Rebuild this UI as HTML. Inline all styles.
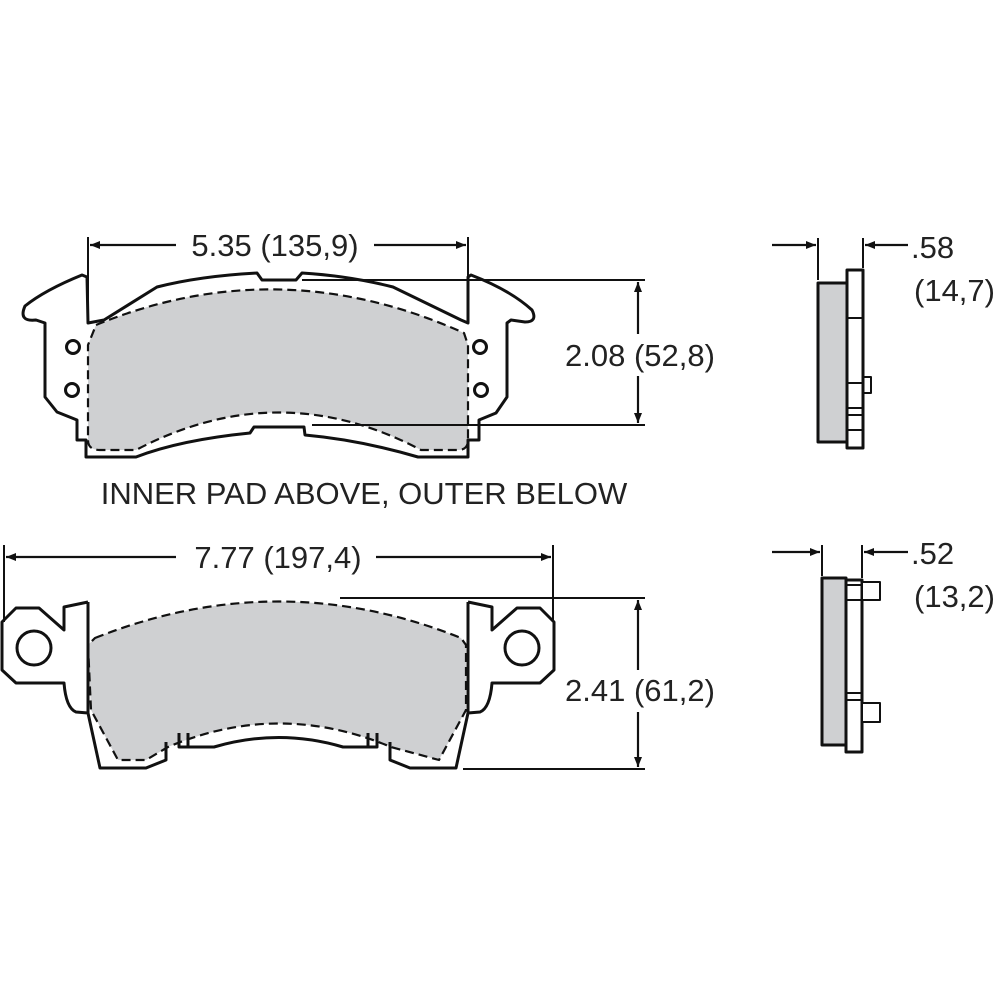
<!DOCTYPE html>
<html><head><style>
html,body{margin:0;padding:0;background:#fff;}
svg{display:block;}
text{font-family:"Liberation Sans",sans-serif;fill:#222;}
</style></head><body>
<svg width="1000" height="1000" viewBox="0 0 1000 1000" xmlns="http://www.w3.org/2000/svg">
<defs>
<marker id="a" viewBox="0 0 10 10" refX="10" refY="5" markerWidth="14" markerHeight="10" orient="auto" markerUnits="userSpaceOnUse"><path d="M0,1 L10,5 L0,9 Z" fill="#111"/></marker>
</defs>
<g fill="none" stroke="#111" stroke-width="3" stroke-linejoin="round">
<path d="M96,325 Q279,250 464,333 L468,345 L468,440 Q468,450 458,450 L421,450 Q279,375 136,450 L100,450 Q88,450 88,440 L88,345 Z" fill="#cfd0d2" stroke="none"/>
<path d="M96,325 Q279,250 464,333 L468,345 L468,440 Q468,450 458,450 L421,450 Q279,375 136,450 L100,450 Q88,450 88,440 L88,345 Z" stroke-dasharray="9,5" stroke-width="2.2"/>
<path d="M88,323 L104,320 L157,287 Q200,276 257,273 L262,280 L296,280 L302,273 Q350,276 393,287 L461,320 L468,323 L468,277 L471,275 Q510,290 532,310 Q538,322 525,322 L511,320 L507,323 L507,397 L496,413 L479,420 L479,440 L468,440 L468,457 L418,457 Q360,440 305,435 L304,427 L254,427 L250,433 Q180,440 136,457 L86,457 L86,440 L77,440 L77,420 L57,412 L45,397 L45,323 L36,320 Q18,322 25,306 Q45,290 82,275 L87,277 Z"/>
<line x1="302" y1="280" x2="645" y2="280" stroke-width="2"/>
<line x1="312" y1="425" x2="645" y2="425" stroke-width="2"/>
<circle cx="73" cy="347" r="6.5"/><circle cx="72" cy="390" r="6.5"/>
<circle cx="480" cy="347" r="6.5"/><circle cx="481" cy="390" r="6.5"/>
<line x1="88" y1="237" x2="88" y2="323" stroke-width="2"/>
<line x1="468" y1="237" x2="468" y2="277" stroke-width="2"/>
<line x1="176" y1="245" x2="90" y2="245" stroke-width="2.2" marker-end="url(#a)"/>
<line x1="374" y1="245" x2="466" y2="245" stroke-width="2.2" marker-end="url(#a)"/>
<line x1="638" y1="334" x2="638" y2="282" stroke-width="2.2" marker-end="url(#a)"/>
<line x1="638" y1="376" x2="638" y2="423" stroke-width="2.2" marker-end="url(#a)"/>

<path d="M95,638 Q279,565 461,638 L466,645 L466,710 L439,760 L391,747 Q279,700 168,747 L146,760 L118,760 L91,710 L88,645 Z" fill="#cfd0d2" stroke="none"/>
<path d="M95,638 Q279,565 461,638 L466,645 L466,710 L439,760 L391,747 Q279,700 168,747 L146,760 L118,760 L91,710 L88,645 Z" stroke-dasharray="9,5" stroke-width="2.2"/>
<path d="M88,602 L64,607 L64,630 L39,608 L16,608 L2,622 L2,670 L16,683 L64,683 Q66,708 76,712 L88,713 L88,602 M88,713 L100,768 L146,768 L166,760 L166,742"/>
<path d="M468,602 L492,607 L492,630 L517,608 L540,608 L554,622 L554,670 L540,683 L492,683 Q490,708 480,712 L468,713 L468,602 M468,713 L456,768 L410,768 L390,760 L390,742"/>
<path d="M179,733 L179,747 L214,747 Q279,728 343,747 L377,747 L377,733 M188,733 L188,747 M368,733 L368,747"/>
<circle cx="34" cy="648" r="17"/><circle cx="522" cy="648" r="17"/>
<line x1="340" y1="598" x2="645" y2="598" stroke-width="2"/>
<line x1="463" y1="769" x2="645" y2="769" stroke-width="2"/>
<line x1="4" y1="545" x2="4" y2="622" stroke-width="2"/>
<line x1="553" y1="545" x2="553" y2="622" stroke-width="2"/>
<line x1="176" y1="557" x2="6" y2="557" stroke-width="2.2" marker-end="url(#a)"/>
<line x1="376" y1="557" x2="551" y2="557" stroke-width="2.2" marker-end="url(#a)"/>
<line x1="638" y1="670" x2="638" y2="600" stroke-width="2.2" marker-end="url(#a)"/>
<line x1="638" y1="712" x2="638" y2="767" stroke-width="2.2" marker-end="url(#a)"/>

<rect x="818" y="283" width="29" height="159" fill="#cfd0d2"/>
<rect x="847" y="270" width="16" height="178" fill="#fff"/>
<path d="M847,318 H863 M847,383 H863 M847,408 H863 M847,415 H863 M847,430 H863" stroke-width="2"/>
<path d="M863,377 H871 V393 H863" stroke-width="2"/>
<line x1="818" y1="238" x2="818" y2="280" stroke-width="2"/>
<line x1="863" y1="238" x2="863" y2="268" stroke-width="2"/>
<line x1="772" y1="245" x2="816" y2="245" stroke-width="2.2" marker-end="url(#a)"/>
<line x1="908" y1="245" x2="865" y2="245" stroke-width="2.2" marker-end="url(#a)"/>
<rect x="822" y="578" width="24" height="167" fill="#cfd0d2"/>
<rect x="846" y="580" width="16" height="172" fill="#fff"/>
<path d="M846,585 H862 M846,600 H862 M846,693 H862 M846,700 H862" stroke-width="2"/>
<rect x="862" y="582" width="18" height="18" fill="#fff" stroke-width="2"/>
<rect x="862" y="703" width="18" height="19" fill="#fff" stroke-width="2"/>
<line x1="822" y1="545" x2="822" y2="576" stroke-width="2"/>
<line x1="862" y1="545" x2="862" y2="578" stroke-width="2"/>
<line x1="772" y1="552" x2="820" y2="552" stroke-width="2.2" marker-end="url(#a)"/>
<line x1="908" y1="552" x2="864" y2="552" stroke-width="2.2" marker-end="url(#a)"/>
</g>
<g font-size="31">
<text x="275" y="256" text-anchor="middle">5.35 (135,9)</text>
<text x="640" y="366" text-anchor="middle">2.08 (52,8)</text>
<text x="364" y="504" text-anchor="middle">INNER PAD ABOVE, OUTER BELOW</text>
<text x="278" y="568" text-anchor="middle">7.77 (197,4)</text>
<text x="640" y="701" text-anchor="middle">2.41 (61,2)</text>
<text x="911" y="258">.58</text>
<text x="914" y="301">(14,7)</text>
<text x="911" y="564">.52</text>
<text x="914" y="607">(13,2)</text>
</g>
</svg>
</body></html>
